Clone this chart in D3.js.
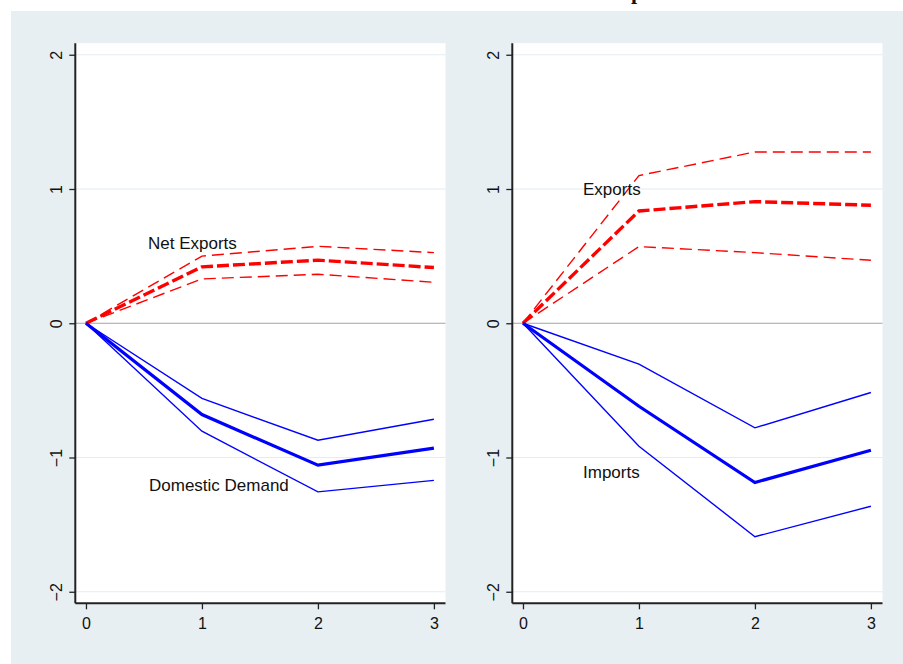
<!doctype html>
<html lang="en">
<head>
    <meta charset="UTF-8">
    <title>D3: Impulse responses</title>
    <script type="text/javascript" src="https://cdn.jsdelivr.net/npm/d3@7"></script>
    <style type="text/css">
        body {
            margin: 0;
            background-color: #ffffff;
        }

        text {
            font-family: "Liberation Sans", Arial, sans-serif;
            fill: #111111;
        }
    </style>
</head>
<body>

<script type="text/javascript">
    var w = 903;
    var h = 664;

    // horizon (periods after the shock)
    var steps = [0, 1, 2, 3];
    var x_ticks = [0, 1, 2, 3];
    var y_ticks = [-2, -1, 0, 1, 2];

    // left panel
    var net_exports = [0, 0.42, 0.47, 0.415];
    var net_exports_hi = [0, 0.50, 0.573, 0.526];
    var net_exports_lo = [0, 0.33, 0.365, 0.305];
    var dom_demand = [0, -0.68, -1.057, -0.93];
    var dom_demand_hi = [0, -0.56, -0.871, -0.715];
    var dom_demand_lo = [0, -0.804, -1.256, -1.17];

    // right panel
    var exports_ = [0, 0.836, 0.906, 0.879];
    var exports_hi = [0, 1.10, 1.276, 1.276];
    var exports_lo = [0, 0.571, 0.526, 0.469];
    var imports_ = [0, -0.618, -1.186, -0.946];
    var imports_hi = [0, -0.305, -0.779, -0.516];
    var imports_lo = [0, -0.916, -1.59, -1.363];

    var panels = [
        {
            left: 75.3,
            up: {mid: net_exports, hi: net_exports_hi, lo: net_exports_lo, label: "Net Exports", lx: 148, ly: 249},
            down: {mid: dom_demand, hi: dom_demand_hi, lo: dom_demand_lo, label: "Domestic Demand", lx: 149, ly: 491}
        },
        {
            left: 512.3,
            up: {mid: exports_, hi: exports_hi, lo: exports_lo, label: "Exports", lx: 583, ly: 195},
            down: {mid: imports_, hi: imports_hi, lo: imports_lo, label: "Imports", lx: 583, ly: 478}
        }
    ];

    var plot_w = 370.2;
    var plot_top = 43.2;
    var plot_bottom = 603.3;

    var svg = d3.select("body").append("svg").attr("width", w).attr("height", h);

    svg.append("rect")
        .attr("x", 11).attr("y", 11)
        .attr("width", w - 11).attr("height", h - 11)
        .attr("fill", "#e8eff2");

    // cut-off title, only the descender shows
    svg.append("text")
        .text("p")
        .attr("x", 631)
        .attr("y", -1.5)
        .style("font-family", "'Liberation Serif', serif")
        .style("font-weight", "bold")
        .style("font-size", "22px")
        .attr("fill", "#000");

    panels.forEach(function (p) {
        var x_scale = d3.scaleLinear().domain([-0.092, 3.1]).range([p.left, p.left + plot_w]);
        var y_scale = d3.scaleLinear().domain([-2.086, 2.086]).range([plot_bottom, plot_top]);

        var g = svg.append("g");

        g.append("rect")
            .attr("x", p.left).attr("y", plot_top)
            .attr("width", plot_w).attr("height", plot_bottom - plot_top)
            .attr("fill", "#ffffff");

        // grid
        g.selectAll("line.grid")
            .data(y_ticks.filter(function (d) { return d !== 0; }))
            .enter()
            .append("line")
            .attr("class", "grid")
            .attr("x1", p.left).attr("x2", p.left + plot_w)
            .attr("y1", function (d) { return y_scale(d); })
            .attr("y2", function (d) { return y_scale(d); })
            .attr("stroke", "#e4ecf0")
            .attr("stroke-width", 1.2);

        g.append("line")
            .attr("x1", p.left).attr("x2", p.left + plot_w)
            .attr("y1", y_scale(0)).attr("y2", y_scale(0))
            .attr("stroke", "#a3a3a3")
            .attr("stroke-width", 1.2);

        var line = d3.line()
            .x(function (d, i) { return x_scale(steps[i]); })
            .y(function (d) { return y_scale(d); });

        // red dashed: upper block
        [p.up.hi, p.up.lo].forEach(function (s) {
            g.append("path").attr("d", line(s))
                .attr("fill", "none").attr("stroke", "#ff0000")
                .attr("stroke-width", 1.4)
                .attr("stroke-dasharray", "12,6");
        });
        g.append("path").attr("d", line(p.up.mid))
            .attr("fill", "none").attr("stroke", "#ff0000")
            .attr("stroke-width", 3.4)
            .attr("stroke-dasharray", "12,4");

        // blue solid: lower block
        [p.down.hi, p.down.lo].forEach(function (s) {
            g.append("path").attr("d", line(s))
                .attr("fill", "none").attr("stroke", "#0000ff")
                .attr("stroke-width", 1.4);
        });
        g.append("path").attr("d", line(p.down.mid))
            .attr("fill", "none").attr("stroke", "#0000ff")
            .attr("stroke-width", 3.2);

        [p.up, p.down].forEach(function (s) {
            g.append("text")
                .text(s.label)
                .attr("x", s.lx)
                .attr("y", s.ly)
                .style("font-size", "17px");
        });

        // axes
        var y_axis = d3.axisLeft(y_scale).tickValues(y_ticks).tickSize(6).tickFormat(d3.format("d"));
        var ya = g.append("g").attr("transform", "translate(" + p.left + ",0)").call(y_axis);
        ya.select(".domain").attr("d", "M0," + plot_top + "V" + plot_bottom).attr("stroke", "#222").attr("stroke-width", 2);
        ya.selectAll(".tick line").attr("stroke", "#222").attr("stroke-width", 1.3);
        ya.selectAll(".tick text")
            .attr("x", 0).attr("dy", null).attr("y", 0)
            .attr("text-anchor", "middle")
            .attr("transform", "translate(-13.3,0) rotate(-90)")
            .style("font-size", "16px")
            .style("font-family", "'Liberation Sans', Arial, sans-serif")
            .attr("fill", "#111");

        var x_axis = d3.axisBottom(x_scale).tickValues(x_ticks).tickSize(6).tickFormat(d3.format("d"));
        var xa = g.append("g").attr("transform", "translate(0," + plot_bottom + ")").call(x_axis);
        xa.select(".domain").attr("d", "M" + p.left + ",0H" + (p.left + plot_w)).attr("stroke", "#222").attr("stroke-width", 2);
        xa.selectAll(".tick line").attr("stroke", "#222").attr("stroke-width", 1.3);
        xa.selectAll(".tick text")
            .attr("dy", null).attr("y", 26)
            .style("font-size", "16px")
            .style("font-family", "'Liberation Sans', Arial, sans-serif")
            .attr("fill", "#111");
    });
</script>

</body>
</html>
